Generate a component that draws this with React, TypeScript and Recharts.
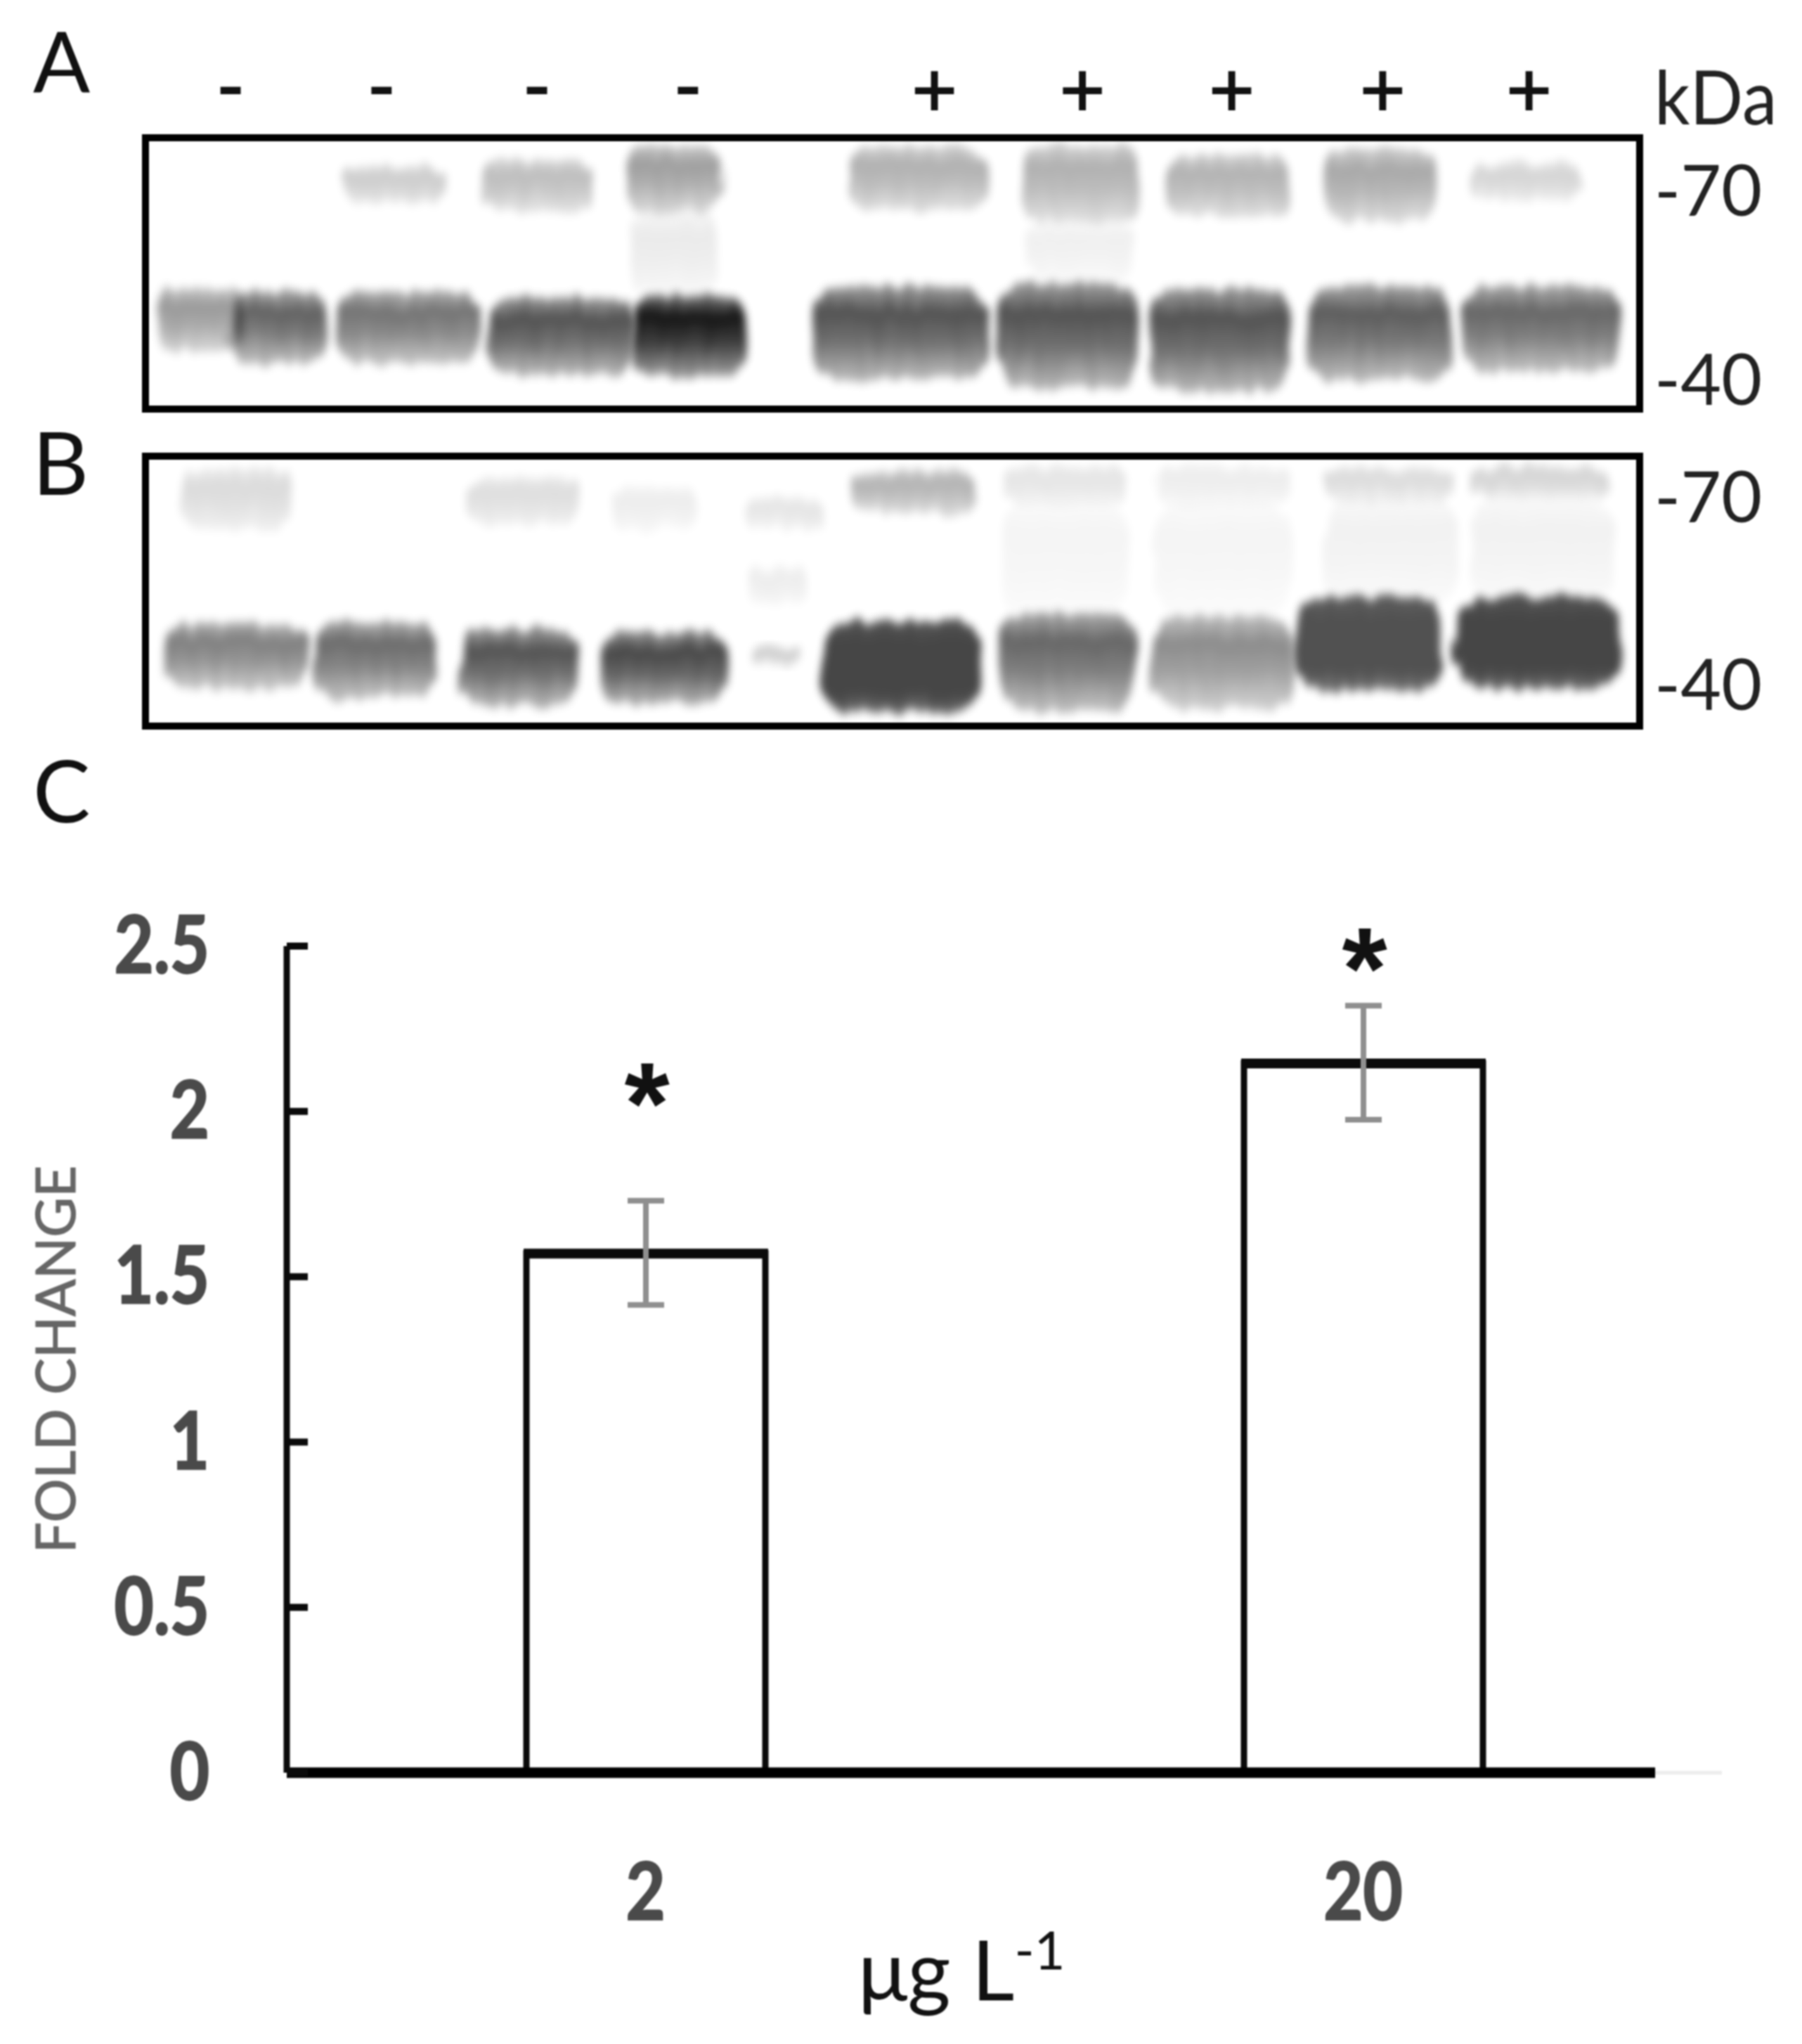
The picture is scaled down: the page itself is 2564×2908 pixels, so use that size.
import { ComposedChart, ScatterChart, Scatter, Bar, Line, ErrorBar, XAxis, YAxis, ReferenceArea, ReferenceLine } from 'recharts'

// panel C
const doses = ['2', '20']
const foldChange = [1.57, 2.145]
const errLow = [0.155, 0.17]
const errHigh = [0.16, 0.175]
const starLevel = [2.077, 2.485]
const foldTicks = [0, 0.5, 1, 1.5, 2, 2.5]

// blots: lane centre and lane width in % of gel width, band centre and spread in kDa, density 0-1
const signs = ['-', '-', '-', '-', '+', '+', '+', '+', '+']
const signLanes = [5.7, 15.8, 26.2, 36.3, 52.8, 62.7, 72.7, 82.8, 92.6]
const kdaTicks = [40, 70]

const laneA = [3.6, 8.9, 17.6, 27.7, 36.4, 50.5, 61.8, 71.9, 82.6, 93.4, 16.5, 26.3, 35.4, 35.4, 51.7, 62.6, 62.6, 72.5, 82.6, 92.3]
const widthA = [5.8, 6.4, 9.5, 9.8, 7.6, 11.7, 9.4, 9.7, 9.5, 10.5, 6.8, 7.4, 6.4, 6.0, 9.2, 7.8, 7.4, 8.2, 7.6, 7.6]
const kdaA = [49.5, 48.3, 48.3, 46.9, 47, 47.4, 46.9, 46.3, 47.4, 48, 71.1, 70.9, 72, 60.1, 72, 71.3, 60.4, 70.9, 70.9, 71.5]
const spreadA = [10, 11.5, 11.5, 12.4, 12.8, 15, 16.8, 16.3, 15, 13.8, 5.7, 8, 11, 12.4, 10.2, 12.4, 9.4, 9.7, 11.5, 5.8]
const densityA = [0.4, 0.62, 0.55, 0.68, 0.92, 0.68, 0.68, 0.68, 0.64, 0.6, 0.2, 0.26, 0.38, 0.08, 0.31, 0.31, 0.06, 0.3, 0.34, 0.17]

const laneB = [6, 15.4, 25, 34.6, 42.1, 50.6, 61.7, 72.1, 81.9, 93.2, 6.1, 25.3, 34.1, 42.7, 42.2, 51.4, 61.5, 72.1, 83.3, 93.4, 83.3, 93.4, 61.5, 72.1]
const widthB = [9.4, 8.2, 7.8, 8.4, 3.1, 10.7, 9.1, 9.4, 9.8, 11, 7.4, 7.2, 5.9, 5.1, 4.2, 8.4, 8.2, 9, 8.6, 9.4, 9, 9.6, 8.6, 9.2]
const kdaB = [44.7, 44.1, 43, 42.8, 44.7, 43, 43.6, 43.6, 46.6, 46.7, 69.7, 69.3, 68.2, 67.4, 55.9, 70.8, 71.8, 71.8, 72.1, 72.4, 61.3, 61.3, 60, 60]
const spreadB = [10.4, 12.3, 12.3, 11.2, 3, 14.6, 15.7, 14.9, 14.9, 14.6, 9.6, 7.5, 6.7, 5.2, 5.9, 6.7, 6.4, 6.4, 5.6, 5.3, 16.8, 16.8, 18, 18]
const densityB = [0.5, 0.58, 0.68, 0.72, 0.2, 0.72, 0.6, 0.45, 0.68, 0.72, 0.14, 0.13, 0.07, 0.1, 0.07, 0.3, 0.1, 0.07, 0.14, 0.17, 0.05, 0.05, 0.04, 0.04]
// overexposed bands in panel B, they read as a flat plateau
const saturatedB = [5, 8, 9]

const LATO = 'Lato, sans-serif'
const GEL_WIDTH = 2126
const PX_PER_KDA = 8.93

const toBands = (lane: number[], width: number[], kda: number[], spread: number[], density: number[], saturated: number[] = []) =>
  lane.map((x, i) => ({ x, kda: kda[i], width: width[i], spread: spread[i], density: density[i], saturated: saturated.includes(i) }))

const bandsA = toBands(laneA, widthA, kdaA, spreadA, densityA)
const bandsB = toBands(laneB, widthB, kdaB, spreadB, densityB, saturatedB)
const barData = doses.map((dose, i) => ({
  pos: i + 0.5,
  dose,
  value: foldChange[i],
  err: [errLow[i], errHigh[i]],
  star: starLevel[i],
}))

const blotDefs = (
  <defs>
    <linearGradient id="bandFade" x1="0" y1="0" x2="0" y2="1">
      <stop offset="0" stopColor="#000" stopOpacity={0.55} />
      <stop offset="0.28" stopColor="#000" stopOpacity={1} />
      <stop offset="0.6" stopColor="#000" stopOpacity={0.82} />
      <stop offset="1" stopColor="#000" stopOpacity={0.38} />
    </linearGradient>
    <linearGradient id="bandFlat" x1="0" y1="0" x2="0" y2="1">
      <stop offset="0" stopColor="#000" stopOpacity={0.9} />
      <stop offset="0.2" stopColor="#000" stopOpacity={1} />
      <stop offset="0.8" stopColor="#000" stopOpacity={1} />
      <stop offset="1" stopColor="#000" stopOpacity={0.75} />
    </linearGradient>
    <filter id="smear" x="-20%" y="-30%" width="140%" height="160%">
      <feTurbulence type="fractalNoise" baseFrequency="0.07 0.012" numOctaves={2} seed={4} result="noise" />
      <feDisplacementMap in="SourceGraphic" in2="noise" scale={22} xChannelSelector="R" yChannelSelector="G" />
      <feGaussianBlur stdDeviation="6 7" />
    </filter>
  </defs>
)

function BlotBand({ cx, cy, payload }: any) {
  const w = (payload.width * GEL_WIDTH) / 100
  const h = payload.spread * PX_PER_KDA
  return (
    <rect
      x={cx - w / 2}
      y={cy - h / 2}
      width={w}
      height={h}
      rx={w * 0.18}
      ry={h * 0.3}
      fill={payload.saturated ? 'url(#bandFlat)' : 'url(#bandFade)'}
      opacity={payload.density}
      filter="url(#smear)"
    />
  )
}

function SignTick({ x, y, index }: any) {
  const sign = signs[index]
  return (
    <text x={x} y={y} dy={sign === '+' ? 36 : 28} textAnchor="middle" fontFamily="Liberation Sans" fontSize={110} fill="#111" stroke="#111" strokeWidth={2}>
      {sign}
    </text>
  )
}

const kdaTick = { fontFamily: LATO, fontSize: 100, fill: '#222' }

function BlotFrame({ low, high }: { low: number; high: number }) {
  return (
    <ReferenceArea x1={0} x2={100} y1={low} y2={high} fill="none" stroke="#000" strokeWidth={10} ifOverflow="visible" />
  )
}

// the original labels are a squeezed Calibri bold: Lato bold pulled in horizontally
function SqueezedLabel({ x, y, text, anchor }: { x: number; y: number; text: string; anchor: 'middle' | 'end' }) {
  return (
    <text transform={`translate(${x} ${y}) scale(0.85 1)`} textAnchor={anchor} fontFamily={LATO} fontWeight={700} fontSize={114} fill="#4a4a4a" stroke="#4a4a4a" strokeWidth={2.5}>
      {text}
    </text>
  )
}

function FoldTick({ x, y, payload }: any) {
  return <SqueezedLabel x={x} y={y + 38} text={String(payload.value)} anchor="end" />
}

function DoseTick({ x, y, payload }: any) {
  return <SqueezedLabel x={x} y={y + 82} text={doses[Math.floor(payload.value)]} anchor="middle" />
}

function OpenBar({ x, y, width, height }: any) {
  return (
    <g>
      <rect x={x} y={y} width={width} height={height} fill="#fff" stroke="#0a0a0a" strokeWidth={9} />
      <line x1={x - 4} x2={x + width + 4} y1={y} y2={y} stroke="#0a0a0a" strokeWidth={14} />
    </g>
  )
}

function StarDot({ cx, cy, index }: any) {
  return (
    <text key={index} x={cx + 2} y={cy} dy={82} textAnchor="middle" fontFamily="Liberation Sans" fontWeight={700} fontSize={165} fill="#111">
      *
    </text>
  )
}

function UnitLabel({ viewBox }: any) {
  return (
    <text x={viewBox.x + viewBox.width * 0.398} y={2846 - 1200} fontFamily={LATO} fontSize={118} fill="#111">
      <tspan>μg L</tspan>
      <tspan dy={-44} fontSize={76}>-1</tspan>
    </text>
  )
}

function PageText({ x, y, size, children }: { x: number; y: number; size: number; children: string }) {
  return (
    <div style={{ position: 'absolute', left: x, top: y, fontFamily: LATO, fontSize: size, lineHeight: 1, color: '#111' }}>
      {children}
    </div>
  )
}

const layer = (top: number): React.CSSProperties => ({ position: 'absolute', left: 0, top })

export default function App() {
  return (
    <div style={{ position: 'absolute', left: 0, top: 0, width: 2564, height: 2908, background: '#fff', overflow: 'hidden', filter: 'blur(1.1px)' }}>
      <PageText x={47} y={26} size={120}>A</PageText>
      <PageText x={46} y={594} size={124}>B</PageText>
      <PageText x={47} y={1062} size={122}>C</PageText>
      <div style={{ position: 'absolute', left: 2354, top: 77, fontFamily: LATO, fontSize: 107, lineHeight: 1.1, color: '#222', transform: 'scaleX(0.93)', transformOrigin: 'left' }}>kDa</div>

      <div style={layer(0)}>
        <ScatterChart width={2564} height={640} margin={{ top: 0, right: 0, bottom: 58, left: 207 }}>
          {blotDefs}
          <XAxis
            xAxisId={0}
            type="number"
            dataKey="x"
            orientation="top"
            domain={[0, 100]}
            ticks={signLanes}
            height={196}
            axisLine={false}
            tickLine={false}
            tickSize={0}
            tickMargin={66}
            interval={0}
            tick={<SignTick />}
          />
          <YAxis
            type="number"
            dataKey="kda"
            orientation="right"
            domain={[35.3, 78.5]}
            ticks={kdaTicks}
            width={231}
            axisLine={false}
            tickLine={false}
            tickSize={0}
            tickMargin={21}
            tick={kdaTick}
            tickFormatter={(v) => `-${v}`}
          />
          <Scatter data={bandsA} shape={<BlotBand />} isAnimationActive={false} />
          {BlotFrame({ low: 35.3, high: 78.5 })}
        </ScatterChart>
      </div>

      <div style={layer(620)}>
        <ScatterChart width={2564} height={440} margin={{ top: 29, right: 0, bottom: 27, left: 207 }}>
          {blotDefs}
          <XAxis type="number" dataKey="x" domain={[0, 100]} hide />
          <YAxis
            type="number"
            dataKey="kda"
            orientation="right"
            domain={[33.5, 76.5]}
            ticks={kdaTicks}
            width={231}
            axisLine={false}
            tickLine={false}
            tickSize={0}
            tickMargin={21}
            tick={kdaTick}
            tickFormatter={(v) => `-${v}`}
          />
          <Scatter data={bandsB} shape={<BlotBand />} isAnimationActive={false} />
          {BlotFrame({ low: 33.5, high: 76.5 })}
        </ScatterChart>
      </div>

      <div style={layer(1200)}>
        <ComposedChart width={2564} height={1708} data={barData} margin={{ top: 146, right: 114, bottom: 0, left: 0 }}>
          <XAxis
            type="number"
            dataKey="pos"
            domain={[0, 2]}
            ticks={[0.5, 1.5]}
            height={386}
            axisLine={false}
            tickLine={false}
            tickSize={0}
            tickMargin={127}
            tick={<DoseTick />}
            label={<UnitLabel />}
          />
          <YAxis
            domain={[0, 2.5]}
            ticks={foldTicks}
            width={408}
            axisLine={{ stroke: '#0a0a0a', strokeWidth: 9 }}
            tickLine={{ stroke: '#0a0a0a', strokeWidth: 10 }}
            tickSize={-30}
            tickMargin={140}
            tick={<FoldTick />}
            label={{ value: 'FOLD CHANGE', angle: -90, position: 'insideLeft', offset: 0, dx: 79, style: { textAnchor: 'middle', fontFamily: LATO, fontSize: 78, fill: '#666', stroke: '#666', strokeWidth: 1.2 } }}
          />
          <Bar dataKey="value" barSize={340} shape={<OpenBar />} isAnimationActive={false}>
            <ErrorBar dataKey="err" direction="y" width={26} stroke="#8f8f8f" strokeWidth={8} isAnimationActive={false} />
          </Bar>
          <Line dataKey="star" stroke="none" dot={StarDot} activeDot={false} legendType="none" isAnimationActive={false} />
          <ReferenceLine segment={[{ x: 1.907, y: 0 }, { x: 2, y: 0 }]} stroke="#ececec" strokeWidth={5} />
          <ReferenceLine segment={[{ x: 0, y: 0 }, { x: 1.907, y: 0 }]} stroke="#000" strokeWidth={15} />
        </ComposedChart>
      </div>
    </div>
  )
}
